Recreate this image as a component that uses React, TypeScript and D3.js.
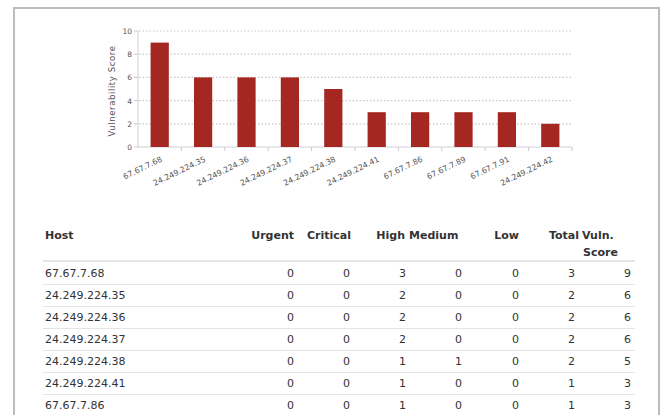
import React from "react";
import * as d3 from "d3";

const hosts = [
  "67.67.7.68",
  "24.249.224.35",
  "24.249.224.36",
  "24.249.224.37",
  "24.249.224.38",
  "24.249.224.41",
  "67.67.7.86",
  "67.67.7.89",
  "67.67.7.91",
  "24.249.224.42",
];
const scores = [9, 6, 6, 6, 5, 3, 3, 3, 3, 2];
const yTicks = [0, 2, 4, 6, 8, 10];

const tableHosts = [
  "67.67.7.68",
  "24.249.224.35",
  "24.249.224.36",
  "24.249.224.37",
  "24.249.224.38",
  "24.249.224.41",
  "67.67.7.86",
];
const urgent = [0, 0, 0, 0, 0, 0, 0];
const critical = [0, 0, 0, 0, 0, 0, 0];
const high = [3, 2, 2, 2, 1, 1, 1];
const medium = [0, 0, 0, 0, 1, 0, 0];
const low = [0, 0, 0, 0, 0, 0, 0];
const total = [3, 2, 2, 2, 2, 1, 1];
const vulnScore = [9, 6, 6, 6, 5, 3, 3];

const W = 662;
const H = 415;

export default function App() {
  const x = d3.scaleBand<string>().domain(hosts).range([138, 572]).paddingInner(0.58).paddingOuter(0.29);
  const band = d3.scaleBand<string>().domain(hosts).range([138, 572]);
  const y = d3.scaleLinear().domain([0, 10]).range([147, 31]);

  const font = "DejaVu Sans, Verdana, sans-serif";
  const txt = "#333";

  const cols = [
    { vals: urgent, vx: 294, head: ["Urgent"], hx: 294, anchor: "end" },
    { vals: critical, vx: 350, head: ["Critical"], hx: 351, anchor: "end" },
    { vals: high, vx: 406, head: ["High"], hx: 405, anchor: "end" },
    { vals: medium, vx: 462, head: ["Medium"], hx: 409, anchor: "start" },
    { vals: low, vx: 519, head: ["Low"], hx: 519, anchor: "end" },
    { vals: total, vx: 575, head: ["Total"], hx: 579, anchor: "end" },
    { vals: vulnScore, vx: 631, head: ["Vuln.", "Score"], hx: 582, anchor: "start" },
  ];

  const rowY = d3.scaleLinear().domain([0, 1]).range([277, 299]);

  return (
    <svg width={W} height={H} style={{ position: "absolute", left: 0, top: 0, background: "#fff" }} fontFamily={font}>
      <rect x={0} y={0} width={W} height={H} fill="#fff" />
      <rect x={14} y={8} width={645} height={430} fill="#fff" stroke="#bcbcbc" strokeWidth={2} />

      {/* grid */}
      {yTicks.filter((t) => t > 0).map((t) => (
        <line key={t} x1={139} x2={572} y1={y(t)} y2={y(t)} stroke="#c8c8c8" strokeWidth={1.2} strokeDasharray="1.5,2" />
      ))}

      {/* axes */}
      <line x1={138} x2={138} y1={31} y2={147} stroke="#d0d0d8" />
      <line x1={138} x2={572} y1={147} y2={147} stroke="#d0d0d8" />
      {yTicks.map((t) => (
        <g key={t}>
          <line x1={134} x2={138} y1={y(t)} y2={y(t)} stroke="#c8c8d0" />
          <text x={132} y={y(t) + 3} fontSize={7.5} fill="#555" textAnchor="end">{t}</text>
        </g>
      ))}
      {hosts.map((h) => (
        <line key={h} x1={band(h)! + band.bandwidth()} x2={band(h)! + band.bandwidth()} y1={147} y2={151} stroke="#c8c8d0" />
      ))}

      <text transform={`translate(115,${(31 + 147) / 2 + 2}) rotate(-90)`} fontSize={8.5} letterSpacing={0.6} fill="#555" textAnchor="middle">
        Vulnerability Score
      </text>

      {/* bars */}
      {hosts.map((h, i) => (
        <rect key={h} x={x(h)} y={y(scores[i])} width={x.bandwidth()} height={y(0) - y(scores[i])} fill="#a52722" />
      ))}

      {/* x labels */}
      {hosts.map((h) => {
        const cx = band(h)! + band.bandwidth() / 2 + 3;
        return (
          <text key={h} transform={`translate(${cx},${161}) rotate(-26)`} fontSize={7.8} fill="#555" textAnchor="end">
            {h}
          </text>
        );
      })}

      {/* table header */}
      <text x={45} y={239} fontSize={11} fontWeight="bold" fill={txt}>Host</text>
      {cols.map((c, ci) =>
        c.head.map((hl, li) => (
          <text key={ci + "-" + li} x={li === 1 ? c.hx + 1 : c.hx} y={239 + li * 17} fontSize={11} fontWeight="bold" fill={txt} textAnchor={c.anchor as any}>
            {hl}
          </text>
        ))
      )}
      <line x1={43} x2={635} y1={261} y2={261} stroke="#dcdcdc" strokeWidth={1.5} />

      {/* table rows */}
      {tableHosts.map((h, r) => {
        const by = rowY(r);
        return (
          <g key={h}>
            <text x={45} y={by} fontSize={11} fill={txt}>{h}</text>
            {cols.map((c, ci) => (
              <text key={ci} x={c.vx} y={by} fontSize={11} fill={txt} textAnchor="end">{c.vals[r]}</text>
            ))}
            <line x1={43} x2={635} y1={by + 7.5} y2={by + 7.5} stroke="#e4e4e4" strokeWidth={1} />
          </g>
        );
      })}
    </svg>
  );
}
